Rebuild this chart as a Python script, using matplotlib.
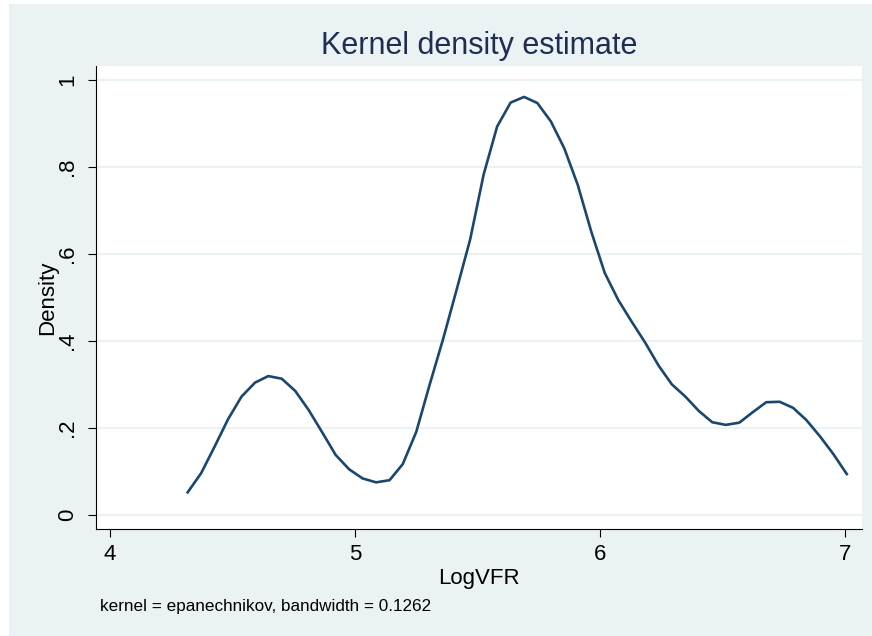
import numpy as np
import matplotlib
matplotlib.use("Agg")
import matplotlib.pyplot as plt
from matplotlib.patches import Rectangle

plt.rcParams['font.family'] = ['Liberation Sans', 'DejaVu Sans']

# kernel density estimate (50 evaluation points)
logvfr = [4.317, 4.372, 4.427, 4.482, 4.537, 4.592, 4.646, 4.701, 4.756, 4.811,
          4.866, 4.921, 4.976, 5.031, 5.086, 5.141, 5.195, 5.250, 5.305, 5.360,
          5.415, 5.470, 5.525, 5.580, 5.635, 5.690, 5.744, 5.799, 5.854, 5.909,
          5.964, 6.019, 6.074, 6.129, 6.184, 6.239, 6.293, 6.348, 6.403, 6.458,
          6.513, 6.568, 6.623, 6.678, 6.733, 6.788, 6.842, 6.897, 6.952, 7.007]
density = [0.052, 0.096, 0.157, 0.220, 0.272, 0.304, 0.319, 0.313, 0.285, 0.241,
           0.190, 0.138, 0.105, 0.084, 0.075, 0.080, 0.117, 0.191, 0.300, 0.405,
           0.518, 0.633, 0.782, 0.892, 0.947, 0.960, 0.946, 0.904, 0.842, 0.758,
           0.651, 0.556, 0.494, 0.444, 0.396, 0.343, 0.300, 0.272, 0.239, 0.213,
           0.207, 0.212, 0.236, 0.259, 0.260, 0.246, 0.218, 0.181, 0.140, 0.094]

xticks = [4, 5, 6, 7]
yticks = [0, 0.2, 0.4, 0.6, 0.8, 1]
ytick_labels = ['0', '.2', '.4', '.6', '.8', '1']

bg = '#EAF2F3'
navy = '#1A476F'

fig = plt.figure(figsize=(8.72, 6.36), dpi=100)
fig.patch.set_facecolor('white')
# graph region (Stata-like light bluish gray)
region = Rectangle((9 / 872, 0), 1 - 9 / 872, 1 - 4 / 636,
                   transform=fig.transFigure, facecolor=bg,
                   edgecolor='none', zorder=-10)
fig.add_artist(region)

ax = fig.add_axes([96 / 872, 107 / 636, 766 / 872, 463 / 636])
ax.set_zorder(5)
ax.set_facecolor('white')

for y in yticks:
    ax.axhline(y, color=bg, linewidth=1.5, zorder=1)

ax.plot(logvfr, density, color=navy, linewidth=1.9, zorder=3)

ax.set_xlim(3.943, 7.069)
ax.set_ylim(-0.0321, 1.031)

ax.set_xticks(xticks)
ax.set_xticklabels([str(t) for t in xticks])
ax.set_yticks(yticks)
ax.set_yticklabels(ytick_labels, rotation=90, va='center')

ax.tick_params(axis='both', length=6, width=0.8, color='black',
               labelsize=16, labelcolor='black')
ax.tick_params(axis='x', pad=5)
ax.tick_params(axis='y', pad=7)

for s in ['top', 'right']:
    ax.spines[s].set_visible(False)
for s in ['left', 'bottom']:
    ax.spines[s].set_color('black')
    ax.spines[s].set_linewidth(0.8)

ax.set_xlabel('LogVFR', fontsize=16, labelpad=2)
ax.set_ylabel('Density', fontsize=16, labelpad=-1)

fig.text(479 / 872, 1 - 46 / 636, 'Kernel density estimate', fontsize=22,
         color='#1E2D52', ha='center', va='center')
fig.text(100 / 872, 1 - 606 / 636,
         'kernel = epanechnikov, bandwidth = 0.1262', fontsize=12.3,
         color='black', ha='left', va='center')

fig.savefig('out.png', dpi=100, facecolor=fig.get_facecolor())
